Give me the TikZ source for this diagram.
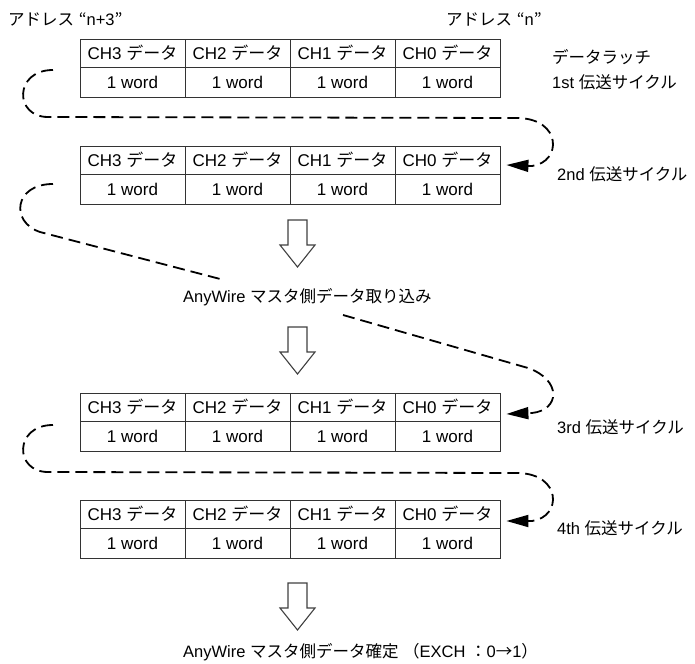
\documentclass[tikz,border=0pt]{standalone}
\usepackage{fontspec}
\setmainfont{Liberation Sans}
\newfontfamily\jpfont{Noto Sans CJK JP}
\newcommand\J[1]{{\jpfont #1}}
\usetikzlibrary{arrows.meta}
\begin{document}
\begin{tikzpicture}[x=1pt,y=-1pt,
  cell/.style={draw=black!80, line width=0.8pt, minimum width=105pt, inner sep=0pt, font=\fontsize{17}{20}\selectfont},
  hcell/.style={cell, minimum height=28pt},
  wcell/.style={cell, minimum height=30pt},
  lbl/.style={anchor=west, inner sep=0pt, font=\fontsize{16.5}{20}\selectfont},
  dashline/.style={line width=1.8pt, dash pattern=on 12pt off 6pt},
  tiparrow/.style={-{Triangle[length=22pt,width=12pt]}},
  bigarrow/.style={draw=black!75, line width=1.1pt, fill=white, line join=miter}
]
\useasboundingbox (0,0) rectangle (695,663);

% tables
\foreach \t/\ty in {1/39,2/146,3/393,4/500} {
  \foreach \c/\x in {3/132.5,2/237.5,1/342.5,0/447.5} {
    \node[hcell] (t\t h\c) at (\x,\ty+14) {CH\c\ \J{データ}};
    \node[wcell] (t\t w\c) at (\x,\ty+43) {1 word};
  }
}

% big down arrows
\foreach \ya in {220,327,583} {
  \draw[bigarrow] (288,\ya) -- (307,\ya) -- (307,\ya+25) -- (315,\ya+25)
    -- (297.5,\ya+47) -- (280,\ya+25) -- (288,\ya+25) -- cycle;
}

% labels
\node[lbl] (addr3) at (8,19) {\J{アドレス} \J{“}n+3\J{”}};
\node[lbl] (addr0) at (446,19) {\J{アドレス} \J{“}n\J{”}};
\node[lbl] (latch) at (552,57) {\J{データラッチ}};
\node[lbl] (cyc1) at (552,82) {1st \J{伝送サイクル}};
\node[lbl] (cyc2) at (557,174) {2nd \J{伝送サイクル}};
\node[lbl] (cyc3) at (557,427) {3rd \J{伝送サイクル}};
\node[lbl] (cyc4) at (557,528) {4th \J{伝送サイクル}};
\node[lbl] (take) at (183,297) {AnyWire \J{マスタ側データ取り込み}};
\node[lbl] (fix) at (183,652) {AnyWire \J{マスタ側データ確定} \J{（}EXCH \J{：}0\J{→}1\J{）}};

% dashed connectors
\coordinate (s1) at (53,70);
\coordinate (s2) at (53,184);
\coordinate (e2) at (224,280);
\coordinate (s3) at (343,315);
\coordinate (s4) at (53,425);

\draw[dashline,tiparrow] (s1) .. controls (14,70) and (14,117) .. (48,117) -- (518,118)
  .. controls (562,119) and (562,162) .. (532,166) -- ([xshift=6pt,yshift=-5pt]t2h0.east);
\draw[dashline] (s2) .. controls (14,184) and (10,222) .. (40,232) -- (e2);
\draw[dashline,tiparrow] (s3) -- (528,368)
  .. controls (562,380) and (560,410) .. (532,413) -- ([xshift=6pt,yshift=-7pt]t3h0.east);
\draw[dashline,tiparrow] (s4) .. controls (14,425) and (14,472) .. (48,472) -- (518,473)
  .. controls (562,474) and (562,517) .. (532,521) -- ([xshift=6pt,yshift=-7pt]t4h0.east);
\end{tikzpicture}
\end{document}
